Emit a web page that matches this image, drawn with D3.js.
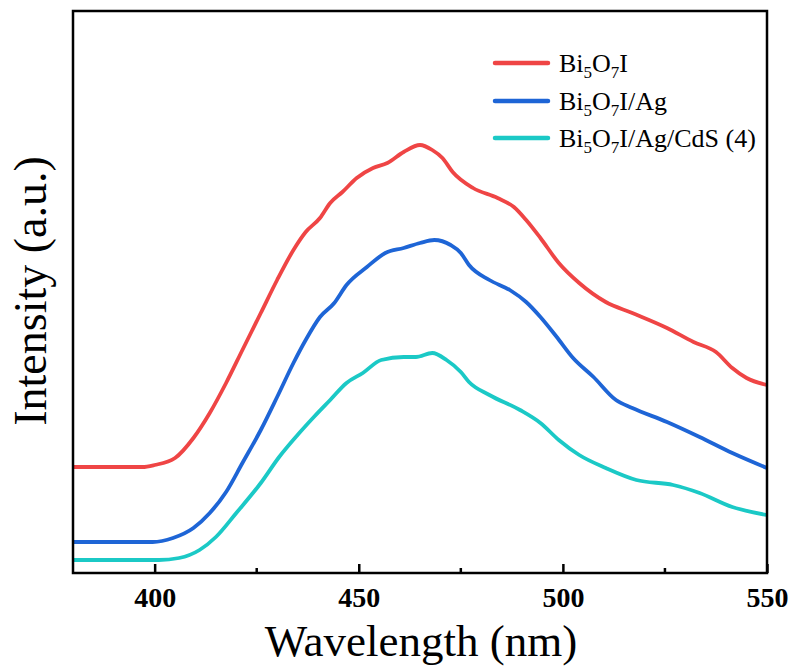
<!DOCTYPE html>
<html>
<head>
<meta charset="utf-8">
<script src="https://cdn.jsdelivr.net/npm/d3@7"></script>
<style>
  body { margin: 0; background: #fff; }
</style>
</head>
<body>
<svg id="chart" width="795" height="669"></svg>
<script>
// data (intensity in arbitrary units)
let redWl = [380, 397, 400, 405, 409.5, 413.5, 417.5, 421.5, 426, 430, 434, 437, 440.5, 443, 446, 449.5, 453.5, 457, 461, 465, 468, 470.5, 473, 478, 484, 488, 491, 494.5, 499, 504, 510.5, 517, 525.5, 532, 537.5, 541.5, 545, 550];
let redI  = [106, 106, 108, 115, 135, 160, 190, 223, 260, 293, 323, 341, 355, 370, 381, 395, 405, 410, 421, 428, 423, 415, 401, 385, 375, 366, 353, 335, 310, 290, 271, 260, 245, 231, 221, 205, 195, 188];

let blueWl = [380, 399.5, 404.5, 409.5, 413.5, 417.5, 421.5, 426, 430, 434, 437, 440.5, 444, 447, 452, 456.5, 461, 465, 468.5, 472.5, 475, 477, 482, 487, 491, 494.5, 498.5, 502.5, 507.5, 513, 517, 525.5, 533.5, 541.5, 550];
let blueI  = [31, 31, 35, 45, 60, 81, 110, 143, 176, 210, 233, 256, 270, 288, 306, 320, 325, 330, 333, 328, 320, 308, 293, 283, 271, 256, 236, 215, 196, 173, 165, 151, 136, 120, 105];

let cyanWl = [380, 401, 406, 411, 415, 420, 426, 430.5, 435, 439, 443, 447, 451, 455.5, 461, 464, 468, 471.5, 475, 477, 482, 489.5, 494.5, 499, 504, 510.5, 518, 527, 533.5, 541.5, 550];
let cyanI  = [13, 13, 15, 23, 36, 60, 90, 116, 138, 156, 173, 190, 200, 213, 216, 216, 220, 213, 201, 191, 178, 163, 150, 133, 118, 105, 93, 88, 80, 66, 58];

let seriesNames = ["Bi5O7I", "Bi5O7I/Ag", "Bi5O7I/Ag/CdS (4)"];
let seriesColors = ["#ef4545", "#1e65d6", "#1bc9c6"];
let majorTicks = [400, 450, 500, 550];
let minorTicks = [425, 475, 525];

// set the dimensions and margins of the graph
let margin = {top: 11, right: 28, bottom: 96, left: 73},
    width = 795 - margin.left - margin.right,
    height = 669 - margin.top - margin.bottom;

let serif = "'Liberation Serif', 'Times New Roman', serif";

let x = d3.scaleLinear().domain([380, 550]).range([0, width]);
let y = d3.scaleLinear().domain([0, 562]).range([height, 0]);

let svg = d3.select("#chart")
  .append("g")
    .attr("transform", "translate(" + margin.left + "," + margin.top + ")");

let series = [
  {name: seriesNames[0], color: seriesColors[0], pts: redWl.map((w, i) => [w, redI[i]])},
  {name: seriesNames[1], color: seriesColors[1], pts: blueWl.map((w, i) => [w, blueI[i]])},
  {name: seriesNames[2], color: seriesColors[2], pts: cyanWl.map((w, i) => [w, cyanI[i]])}
];

let line = d3.line()
  .x(d => x(d[0]))
  .y(d => y(d[1]))
  .curve(d3.curveMonotoneX);

svg.selectAll(".series")
  .data(series)
  .enter().append("path")
    .attr("class", "series")
    .attr("fill", "none")
    .attr("stroke", d => d.color)
    .attr("stroke-width", 3.8)
    .attr("stroke-linejoin", "round")
    .attr("d", d => line(d.pts));

// frame
svg.append("rect")
  .attr("width", width)
  .attr("height", height)
  .attr("fill", "none")
  .attr("stroke", "#000")
  .attr("stroke-width", 2.5);

// bottom axis, ticks pointing inward
let xAxis = svg.append("g")
  .attr("transform", "translate(0," + height + ")")
  .call(d3.axisBottom(x).tickValues(majorTicks).tickSizeInner(-9).tickSizeOuter(0).tickPadding(14));
xAxis.select(".domain").remove();
xAxis.selectAll("line").attr("stroke-width", 2.5);
xAxis.selectAll("text")
  .style("font-family", serif)
  .style("font-size", "28px")
  .style("font-weight", "bold")
  .attr("fill", "#000");

svg.append("g")
  .attr("transform", "translate(0," + height + ")")
  .selectAll("line")
  .data(minorTicks)
  .enter().append("line")
    .attr("x1", d => x(d)).attr("x2", d => x(d))
    .attr("y1", 0).attr("y2", -5)
    .attr("stroke", "#000")
    .attr("stroke-width", 2.5);

// axis titles
svg.append("text")
  .attr("x", 421 - margin.left)
  .attr("y", 656 - margin.top)
  .attr("text-anchor", "middle")
  .style("font-family", serif)
  .style("font-size", "45px")
  .text("Wavelength (nm)");

svg.append("text")
  .attr("transform", "translate(" + (46 - margin.left) + "," + (291 - margin.top) + ") rotate(-90)")
  .attr("text-anchor", "middle")
  .style("font-family", serif)
  .style("font-size", "46px")
  .text("Intensity (a.u.)");

// legend
let legend = svg.append("g").attr("transform", "translate(" + (495 - margin.left) + "," + (63 - margin.top) + ")");
let rowH = [0, 38, 75];
series.forEach(function(s, i) {
  let g = legend.append("g").attr("transform", "translate(0," + rowH[i] + ")");
  g.append("line")
    .attr("x1", 0).attr("x2", 53)
    .attr("stroke", s.color)
    .attr("stroke-width", 4.5)
    .attr("stroke-linecap", "round");
  let t = g.append("text")
    .attr("x", 64)
    .attr("y", 9)
    .style("font-family", serif)
    .style("font-size", "26px");
  t.append("tspan").text("Bi");
  t.append("tspan").attr("dy", 6).style("font-size", "17px").text("5");
  t.append("tspan").attr("dy", -6).text("O");
  t.append("tspan").attr("dy", 6).style("font-size", "17px").text("7");
  t.append("tspan").attr("dy", -6).text(s.name.replace("Bi5O7", ""));
});
</script>
</body>
</html>
